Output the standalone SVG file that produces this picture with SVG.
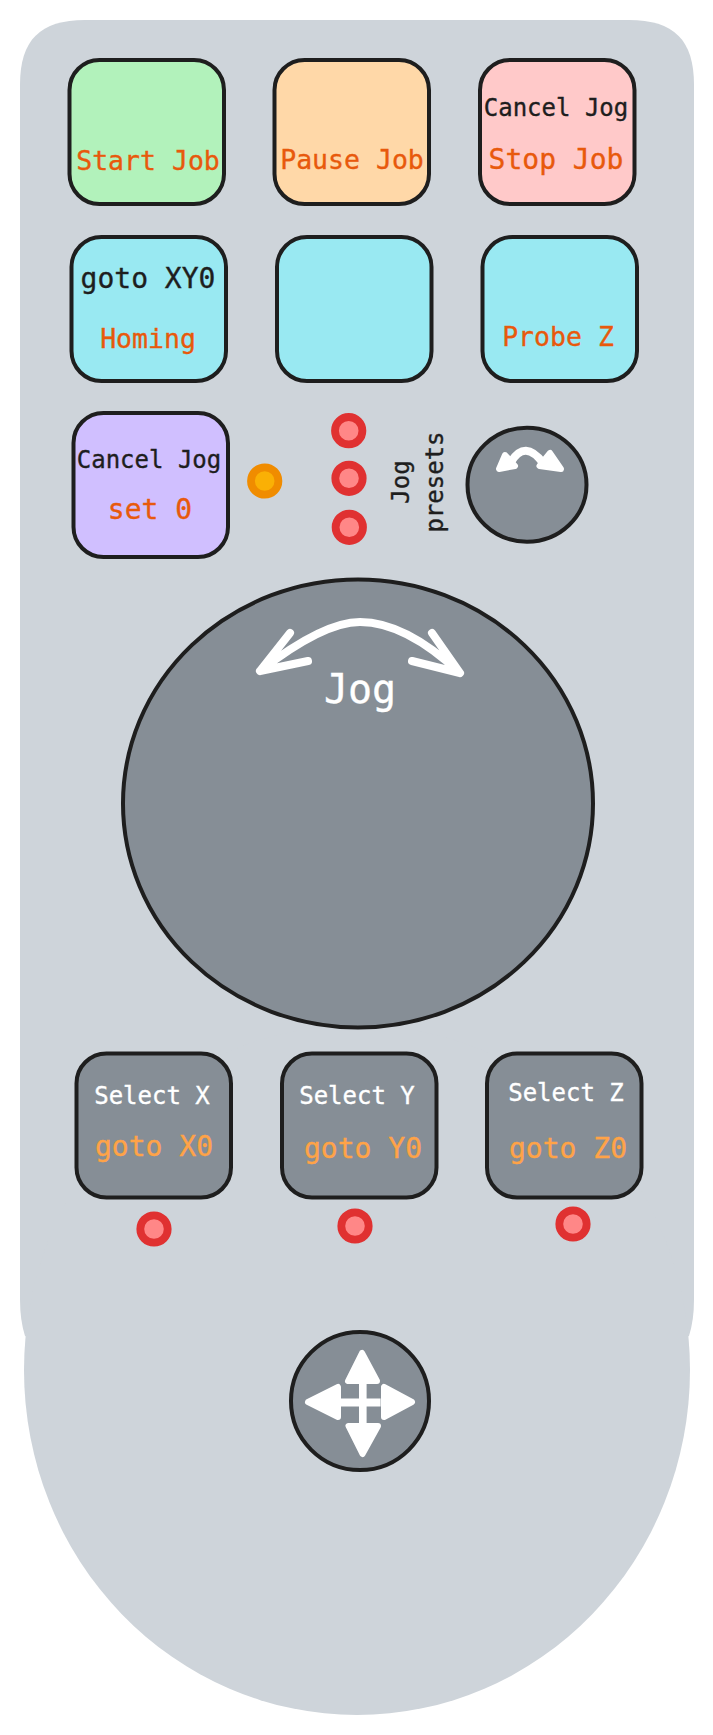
<svg xmlns="http://www.w3.org/2000/svg" width="713" height="1735" viewBox="0 0 713 1735">
<style>
text{font-family:"DejaVu Sans Mono","Liberation Mono",monospace;text-anchor:middle;stroke-width:.35}
.b{stroke:#1e1e1e;stroke-width:4}
.k{fill:#868e96;stroke:#1e1e1e;stroke-width:4}
.d{fill:#1e1e1e;stroke:#1e1e1e}.o{fill:#e8590c;stroke:#e8590c}.w{fill:#fff;stroke:#fff}.g{fill:#ffa347;stroke:#ffa347}
.s24{font-size:24px}.s27{font-size:26.5px}.s28{font-size:28px}
.r{fill:#ff8787;stroke:#e03131;stroke-width:7.8}
.a{fill:none;stroke:#fff;stroke-linecap:round;stroke-linejoin:round}
.h{fill:#fff;stroke:#fff;stroke-width:6;stroke-linejoin:round}
</style>
<rect width="713" height="1735" fill="#fff"/>
<g id="body" fill="#ced4da">
<path d="M20 85C20 40 40 20 85 20H629C674 20 694 40 694 85V1300Q694 1320 689 1336L357 1360L25 1336Q20 1320 20 1300Z"/>
<ellipse cx="357" cy="1370" rx="333" ry="345"/>
</g>
<g id="btn-start"><rect class="b" x="69.500" y="60" width="154.500" height="144" rx="30" fill="#b2f2bb"/><text class="o s27" x="148" y="170">Start Job</text></g>
<g id="btn-pause"><rect class="b" x="274.500" y="60" width="154.500" height="144" rx="30" fill="#ffd8a8"/><text class="o s27" x="352" y="168.500">Pause Job</text></g>
<g id="btn-stop"><rect class="b" x="480" y="60" width="154.500" height="144" rx="30" fill="#ffc9c9"/><text class="d s24" x="556" y="115.500">Cancel Jog</text><text class="o s28" x="556" y="168.500">Stop Job</text></g>
<g id="btn-goto-xy"><rect class="b" x="71.500" y="237" width="154.500" height="144" rx="30" fill="#99e9f2"/><text class="d s28" x="148" y="288">goto XY0</text><text class="o s27" x="148" y="348">Homing</text></g>
<g id="btn-blank"><rect class="b" x="277" y="237" width="154.500" height="144" rx="30" fill="#99e9f2"/></g>
<g id="btn-probe"><rect class="b" x="482.500" y="237" width="154.500" height="144" rx="30" fill="#99e9f2"/><text class="o s27" x="558" y="345.500">Probe Z</text></g>
<g id="btn-set"><rect class="b" x="73.500" y="413" width="154.500" height="144" rx="30" fill="#d0bfff"/><text class="d s24" x="149" y="468">Cancel Jog</text><text class="o s28" x="150" y="519">set 0</text></g>
<g id="led-status"><circle cx="264.700" cy="481" r="13.700" fill="#fab005" stroke="#f08c00" stroke-width="7.800"/></g>
<g id="led-presets"><circle class="r" cx="348.700" cy="430.700" r="13.700"/><circle class="r" cx="349" cy="478.300" r="13.700"/><circle class="r" cx="349.300" cy="527.300" r="13.700"/></g>
<g id="label-presets"><text class="d s24" transform="translate(409.300 482) rotate(-90)">Jog</text><text class="d s24" transform="translate(443 482) rotate(-90)">presets</text></g>
<g id="knob-presets"><ellipse class="k" cx="527" cy="484.700" rx="59.500" ry="57"/></g>
<g id="knob-jog"><ellipse class="k" cx="358" cy="803.500" rx="235" ry="224"/><text class="w" font-size="40" x="360" y="703">Jog</text></g>
<g id="btn-x"><rect class="b" x="76.500" y="1053.500" width="154.500" height="144" rx="30" fill="#868e96"/><text class="w s24" x="152" y="1104">Select X</text><text class="g s28" x="154" y="1156">goto X0</text></g>
<g id="btn-y"><rect class="b" x="282" y="1053.500" width="154.500" height="144" rx="30" fill="#868e96"/><text class="w s24" x="357" y="1104">Select Y</text><text class="g s28" x="363" y="1158">goto Y0</text></g>
<g id="btn-z"><rect class="b" x="487" y="1053.500" width="154.500" height="144" rx="30" fill="#868e96"/><text class="w s24" x="566" y="1101">Select Z</text><text class="g s28" x="568" y="1158">goto Z0</text></g>
<g id="led-axes"><circle class="r" cx="154" cy="1229" r="13.700"/><circle class="r" cx="355" cy="1226" r="13.700"/><circle class="r" cx="573" cy="1224" r="13.700"/></g>
<g id="knob-move"><circle class="k" cx="360" cy="1401" r="69"/></g>
<g id="connectors">
<path class="a" stroke-width="8" d="M260 671C300 640 335 622 360 622C395 622 430 645 460 673M290 633L260 671L308 661M432 633L460 673L412 661"/>
<path class="a" stroke-width="8" d="M511 462Q525 439 543 463"/>
<path class="h" d="M499 469L505 455L515 466Z"/><path class="h" d="M561 469L550 453L539.500 466Z"/>
<path fill="#fff" d="M359 1380h7.600v18.500h14v8h-14v18h-7.600v-18h-19v-8h19z"/>
<path class="h" d="M362 1353L348 1381H377Z"/><path class="h" d="M362.500 1454L348.500 1426H378Z"/>
<path class="h" d="M308 1402L338 1387V1417Z"/><path class="h" d="M412 1402L384 1387V1417Z"/>
</g>
</svg>
